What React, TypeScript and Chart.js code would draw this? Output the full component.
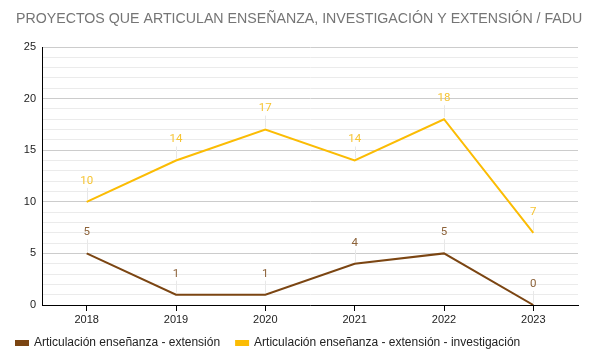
import React, { useEffect, useRef } from "react";
import { Chart, registerables } from "chart.js";

Chart.register(...registerables);

const TITLE = "PROYECTOS QUE ARTICULAN ENSEÑANZA, INVESTIGACIÓN Y EXTENSIÓN / FADU";
const years = ["2018", "2019", "2020", "2021", "2022", "2023"];
const extension = [5, 1, 1, 4, 5, 0];
const extensionInvestigacion = [10, 14, 17, 14, 18, 7];
const seriesNames = [
  "Articulación enseñanza - extensión",
  "Articulación enseñanza - extensión - investigación",
];

const BROWN = "#7b4512";
const YELLOW = "#fbbc04";
const BROWN_LABEL = "#8c6239";
const YELLOW_LABEL = "#f6c433";
const FONT = "'Liberation Sans', Arial, sans-serif";

const titlePlugin = {
  id: "customTitle",
  afterLayout(chart: any) {
    if (chart.legend) {
      chart.legend.top -= 5;
      chart.legend.bottom -= 5;
    }
  },
  afterDraw(chart: any) {
    const ctx = chart.ctx;
    ctx.save();
    ctx.fillStyle = "#757575";
    ctx.font = "14.2px " + FONT;
    ctx.textAlign = "left";
    ctx.textBaseline = "middle";
    ctx.fillText(TITLE, 16, 19);
    ctx.restore();
  },
};

const labelPlugin = {
  id: "pointLabels",
  afterDatasetsDraw(chart: any) {
    const ctx = chart.ctx;
    chart.data.datasets.forEach((ds: any, i: number) => {
      const meta = chart.getDatasetMeta(i);
      meta.data.forEach((pt: any, j: number) => {
        const x = pt.x;
        const y = pt.y;
        ctx.save();
        ctx.strokeStyle = "#e8e8e8";
        ctx.lineWidth = 1;
        ctx.beginPath();
        ctx.moveTo(Math.round(x) + 0.5, y - 2);
        ctx.lineTo(Math.round(x) + 0.5, y - 14);
        ctx.stroke();
        ctx.fillStyle = ds.labelColor;
        ctx.font = "11.5px Roboto";
        ctx.textAlign = "center";
        ctx.textBaseline = "middle";
        ctx.fillText(String(ds.data[j]), x, y - 21);
        ctx.restore();
      });
    });
  },
};

export default function App() {
  const ref = useRef<HTMLCanvasElement>(null);
  useEffect(() => {
    document.body.style.margin = "0";
    const chart = new Chart(ref.current!, {
      type: "line",
      data: {
        labels: years,
        datasets: [
          {
            label: seriesNames[0],
            data: extension,
            borderColor: BROWN,
            backgroundColor: BROWN,
            borderWidth: 2,
            pointRadius: 0,
            tension: 0,
            labelColor: BROWN_LABEL,
          } as any,
          {
            label: seriesNames[1],
            data: extensionInvestigacion,
            borderColor: YELLOW,
            backgroundColor: YELLOW,
            borderWidth: 2,
            pointRadius: 0,
            tension: 0,
            labelColor: YELLOW_LABEL,
          } as any,
        ],
      },
      options: {
        animation: false,
        responsive: false,
        layout: { padding: { left: 0, right: 14, top: 47, bottom: 0 } },
        plugins: {
          title: { display: false },
          legend: {
            position: "bottom",
            align: "start",
            labels: {
              boxWidth: 12,
              boxHeight: 4,
              color: "#222",
              font: { family: FONT, size: 12 },
              padding: 16,
            },
          },
          tooltip: { enabled: false },
        },
        scales: {
          x: {
            offset: true,
            afterFit: (s: any) => {
              s.height = 21;
            },
            grid: {
              drawOnChartArea: false,
              drawTicks: true,
              tickLength: 6,
              color: "#000",
            },
            border: { color: "#000", width: 1 },
            ticks: {
              color: "#222",
              font: { family: FONT, size: 11 },
              padding: 2,
            },
          },
          y: {
            min: 0,
            max: 25,
            afterFit: (s: any) => {
              s.width = 42;
            },
            ticks: {
              stepSize: 1,
              autoSkip: false,
              color: "#222",
              font: { family: FONT, size: 11 },
              padding: 6,
              callback: (v: any) => (Number(v) % 5 === 0 ? String(v) : ""),
            },
            grid: {
              drawTicks: false,
              color: (c: any) =>
                c.tick && c.tick.value % 5 === 0 ? "#cccccc" : "#ebebeb",
            },
            border: { color: "#000", width: 1 },
          },
        },
      },
      plugins: [labelPlugin, titlePlugin],
    } as any);
    return () => chart.destroy();
  }, []);
  return <canvas ref={ref} width={592} height={364} />;
}
